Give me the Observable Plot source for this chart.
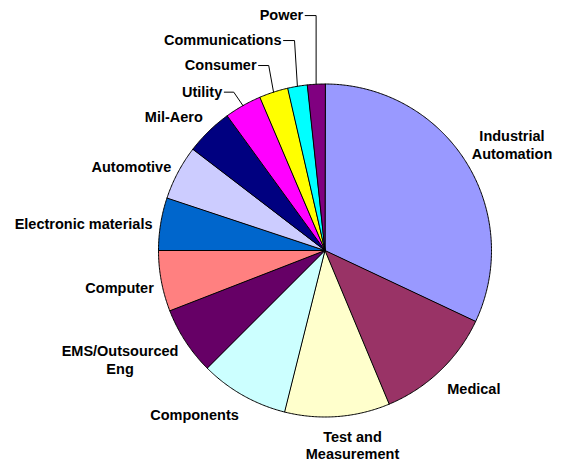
<!DOCTYPE html>
<html>
<head>
<meta charset="utf-8">
<script src="https://cdn.jsdelivr.net/npm/d3@7"></script>
<script src="https://cdn.jsdelivr.net/npm/@observablehq/plot@0.6"></script>
<style>
  html, body { margin: 0; padding: 0; background: #ffffff; }
</style>
</head>
<body>
<div id="chart"></div>
<script>
// ---- data (clockwise from 12 o'clock) ----
const categories = ["Industrial\nAutomation", "Medical", "Test and\nMeasurement", "Components",
  "EMS/Outsourced\nEng", "Computer", "Electronic materials", "Automotive", "Mil-Aero",
  "Utility", "Consumer", "Communications", "Power"];
const shares = [32.0, 11.7, 10.2, 8.6, 6.6, 5.9, 5.1, 5.3, 4.6, 3.6, 2.8, 1.9, 1.7];
const colors = ["#9999FF", "#993366", "#FFFFCC", "#CCFFFF", "#660066", "#FF8080", "#0066CC",
  "#CCCCFF", "#000080", "#FF00FF", "#FFFF00", "#00FFFF", "#800080"];

// ---- label layout (data units of the unit-circle scales) ----
// [x, y, anchor, kneeX] ; kneeX only for labels with leader lines
const labelLayout = [
  [1.123, 0.637, "middle"],
  [0.894, -0.829, "middle"],
  [0.165, -1.168, "middle"],
  [-0.784, -0.985, "middle"],
  [-1.231, -0.655, "middle"],
  [-1.234, -0.222, "middle"],
  [-1.450, 0.162, "middle"],
  [-1.163, 0.506, "middle"],
  [-0.908, 0.805, "middle"],
  [-0.617, 0.951, "end", -0.548],
  [-0.411, 1.111, "end", -0.338],
  [-0.261, 1.261, "end", -0.183],
  [-0.131, 1.411, "end", null]
];

const R_PX = 166.5;

const arcs = d3.pie().sort(null).value(d => d)(shares);

// slice polygons on the unit circle
const slicePts = [];
arcs.forEach((a, i) => {
  const cat = categories[i];
  slicePts.push({cat, x: 0, y: 0});
  const n = Math.max(2, Math.ceil((a.endAngle - a.startAngle) / (Math.PI / 360)));
  for (let k = 0; k <= n; k++) {
    const t = a.startAngle + (a.endAngle - a.startAngle) * k / n;
    slicePts.push({cat, x: Math.sin(t), y: Math.cos(t)});
  }
});

const labels = categories.map((c, i) => ({
  text: c, x: labelLayout[i][0], y: labelLayout[i][1], anchor: labelLayout[i][2]
}));

// leader lines: label end -> knee -> rim point at slice mid-angle
const leaderPts = [];
arcs.forEach((a, i) => {
  const L = labelLayout[i];
  if (L[2] !== "end") return;
  const mid = (a.startAngle + a.endAngle) / 2;
  const rx = Math.sin(mid), ry = Math.cos(mid);
  const kx = L[3] == null ? rx : L[3];
  const cat = categories[i];
  leaderPts.push({cat, x: L[0] + 2 / R_PX, y: L[1]});
  leaderPts.push({cat, x: kx, y: L[1]});
  leaderPts.push({cat, x: rx, y: ry});
});

const font = "'Liberation Sans', Arial, Helvetica, sans-serif";

const chart = Plot.plot({
  width: 561,
  height: 461,
  marginLeft: 158,
  marginRight: 70,
  marginTop: 83.5,
  marginBottom: 44.5,
  x: {domain: [-1, 1], axis: null},
  y: {domain: [-1, 1], axis: null},
  color: {domain: categories, range: colors, legend: false},
  style: {background: "#ffffff", fontFamily: font},
  marks: [
    Plot.line(slicePts, {x: "x", y: "y", z: "cat", fill: "cat", stroke: "#000000",
      strokeWidth: 1, curve: "linear-closed", strokeLinejoin: "round"}),
    Plot.line(leaderPts, {x: "x", y: "y", z: "cat", stroke: "#000000", strokeWidth: 1}),
    Plot.text(labels.filter(d => d.anchor === "middle"), {x: "x", y: "y", text: "text",
      textAnchor: "middle", fontSize: 14.5, fontWeight: "bold", fontFamily: font,
      lineHeight: 1.2, fill: "#000000"}),
    Plot.text(labels.filter(d => d.anchor === "end"), {x: "x", y: "y", text: "text",
      textAnchor: "end", fontSize: 14.5, fontWeight: "bold", fontFamily: font,
      fill: "#000000"})
  ]
});

document.getElementById("chart").appendChild(chart);
</script>
</body>
</html>
